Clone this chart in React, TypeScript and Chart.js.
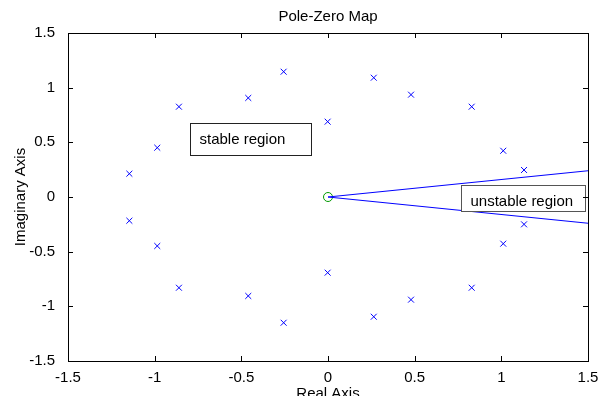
import React, { useEffect, useRef } from "react";
import { Chart, registerables } from "chart.js";

Chart.register(...registerables);

// ---- data ----
const poleRe = [
  -1.146, -0.985, -0.86, -0.46, -0.256, -0.002, 0.264, 0.479, 0.829, 1.011, 1.131,
  -1.146, -0.985, -0.86, -0.46, -0.256, -0.002, 0.264, 0.479, 0.829, 1.011, 1.131,
];
const poleIm = [
  0.213, 0.451, 0.826, 0.906, 1.146, 0.689, 1.091, 0.936, 0.826, 0.423, 0.247,
  -0.217, -0.448, -0.83, -0.905, -1.15, -0.692, -1.095, -0.939, -0.83, -0.427, -0.25,
];
const zeroRe = [0];
const zeroIm = [0];
const boundaryRe = [0, 1.5];
const upperBoundaryIm = [0, 0.24];
const lowerBoundaryIm = [0, -0.24];
const xTicks = [-1.5, -1, -0.5, 0, 0.5, 1, 1.5];
const yTicks = [-1.5, -1, -0.5, 0, 0.5, 1, 1.5];
const titleText = "Pole-Zero Map";
const xTitleText = "Real Axis";
const yTitleText = "Imaginary Axis";
const noteTexts = ["stable region", "unstable region"];
const noteLeft = [-0.796, 0.767];
const noteRight = [-0.098, 1.483];
const noteTop = [0.674, 0.107];
const noteBottom = [0.384, -0.125];

const FONT = '15px "Liberation Sans", Arial, Helvetica, sans-serif';
const BLUE = "#0000ff";

const overlay = {
  id: "overlay",
  afterDatasetsDraw(chart: any) {
    const { ctx, chartArea: a } = chart;
    const xs = chart.scales.x;
    const ys = chart.scales.y;
    ctx.save();
    // annotation boxes
    const borders = ["#222", "#555"];
    noteTexts.forEach((t, i) => {
      const l = Math.round(xs.getPixelForValue(noteLeft[i])) + 0.5;
      const r = Math.round(xs.getPixelForValue(noteRight[i])) + 0.5;
      const tp = Math.round(ys.getPixelForValue(noteTop[i])) + 0.5;
      const b = Math.round(ys.getPixelForValue(noteBottom[i])) + 0.5;
      ctx.fillStyle = "#fff";
      ctx.fillRect(l, tp, r - l, b - tp);
      ctx.strokeStyle = borders[i];
      ctx.lineWidth = 1;
      ctx.strokeRect(l, tp, r - l, b - tp);
      ctx.fillStyle = "#000";
      ctx.font = FONT;
      ctx.textAlign = "left";
      ctx.textBaseline = "alphabetic";
      ctx.fillText(t, l + 9, tp + 20.5);
    });
    // frame
    ctx.strokeStyle = "#000";
    ctx.lineWidth = 1;
    ctx.strokeRect(a.left + 0.5, a.top + 0.5, a.right - a.left, a.bottom - a.top);
    // inward ticks
    ctx.beginPath();
    xTicks.forEach((v) => {
      const p = Math.round(xs.getPixelForValue(v)) + 0.5;
      ctx.moveTo(p, a.bottom);
      ctx.lineTo(p, a.bottom - 5);
      ctx.moveTo(p, a.top);
      ctx.lineTo(p, a.top + 5);
    });
    yTicks.forEach((v) => {
      const p = Math.round(ys.getPixelForValue(v)) + 0.5;
      ctx.moveTo(a.left, p);
      ctx.lineTo(a.left + 5, p);
      ctx.moveTo(a.right, p);
      ctx.lineTo(a.right - 5, p);
    });
    ctx.stroke();
    // titles
    ctx.fillStyle = "#000";
    ctx.font = FONT;
    ctx.textAlign = "center";
    ctx.textBaseline = "alphabetic";
    const cx = (a.left + a.right) / 2;
    ctx.fillText(titleText, cx, 20.5);
    ctx.fillText(xTitleText, cx, 398);
    ctx.save();
    ctx.translate(24.5, (a.top + a.bottom) / 2);
    ctx.rotate(-Math.PI / 2);
    ctx.fillText(yTitleText, 0, 0);
    ctx.restore();
    ctx.restore();
  },
};

export default function App() {
  const ref = useRef<HTMLCanvasElement>(null);
  useEffect(() => {
    if (!ref.current) return;
    const tickFont = { family: '"Liberation Sans", Arial, Helvetica, sans-serif', size: 15 };
    const chart = new Chart(ref.current, {
      type: "scatter",
      data: {
        datasets: [
          {
            label: "upper",
            data: boundaryRe.map((x, i) => ({ x, y: upperBoundaryIm[i] })),
            showLine: true,
            borderColor: BLUE,
            borderWidth: 1,
            pointRadius: 0,
            fill: false,
          },
          {
            label: "lower",
            data: boundaryRe.map((x, i) => ({ x, y: lowerBoundaryIm[i] })),
            showLine: true,
            borderColor: BLUE,
            borderWidth: 1,
            pointRadius: 0,
            fill: false,
          },
          {
            label: "poles",
            data: poleRe.map((x, i) => ({ x, y: poleIm[i] })),
            pointStyle: "crossRot",
            pointRadius: 4.2,
            borderColor: BLUE,
            borderWidth: 1,
            showLine: false,
          },
          {
            label: "zeros",
            data: zeroRe.map((x, i) => ({ x, y: zeroIm[i] })),
            pointStyle: "circle",
            pointRadius: 4.5,
            borderColor: "#009900",
            backgroundColor: "rgba(0,0,0,0)",
            borderWidth: 1,
            showLine: false,
          },
        ],
      },
      options: {
        animation: false,
        responsive: false,
        devicePixelRatio: 1,
        layout: { padding: { top: 33, left: 0, right: 10, bottom: 0 } },
        plugins: { legend: { display: false }, title: { display: false }, tooltip: { enabled: false } },
        scales: {
          x: {
            type: "linear",
            min: -1.5,
            max: 1.5,
            grid: { display: false },
            border: { display: false },
            afterBuildTicks: (s: any) => {
              s.ticks = xTicks.map((v) => ({ value: v }));
            },
            afterFit: (s: any) => {
              s.height = 35;
              s.paddingLeft = 0;
              s.paddingRight = 0;
            },
            ticks: {
              autoSkip: false,
              maxRotation: 0,
              color: "#000",
              font: tickFont,
              padding: 0,
              callback: (v: any) => String(v),
            },
          },
          y: {
            type: "linear",
            min: -1.5,
            max: 1.5,
            grid: { display: false },
            border: { display: false },
            afterBuildTicks: (s: any) => {
              s.ticks = yTicks.map((v) => ({ value: v }));
            },
            afterFit: (s: any) => {
              s.width = 68;
              s.paddingTop = 0;
              s.paddingBottom = 0;
            },
            ticks: {
              autoSkip: false,
              color: "#000",
              font: tickFont,
              padding: 5,
              callback: (v: any) => String(v),
            },
          },
        },
      },
      plugins: [overlay],
    } as any);
    return () => chart.destroy();
  }, []);
  return (
    <div style={{ position: "absolute", left: 0, top: 0, width: 598, height: 396, background: "#fff" }}>
      <canvas ref={ref} width={598} height={396} style={{ display: "block" }} />
    </div>
  );
}
